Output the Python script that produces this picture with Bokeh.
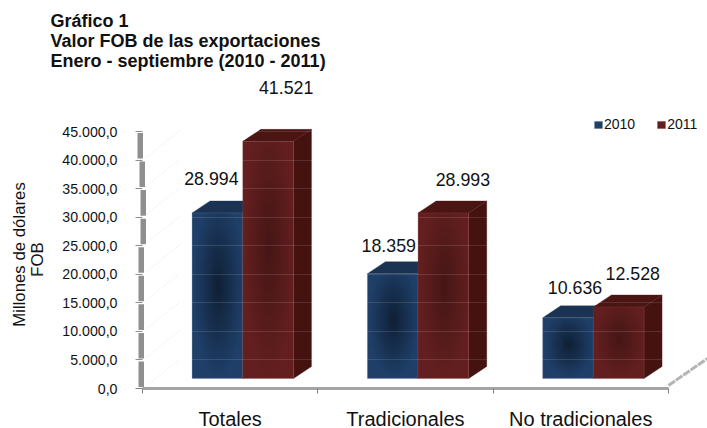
import numpy as np
from bokeh.plotting import figure
from bokeh.models import Range1d, FixedTicker, Label, Legend, LegendItem, ColumnDataSource
from bokeh.core.properties import value
from bokeh.embed import file_html
from bokeh.resources import INLINE

categories = ["Totales", "Tradicionales", "No tradicionales"]
years = ["2010", "2011"]
values_2010 = [28994, 18359, 10636]
values_2011 = [41521, 28993, 12528]
labels_2010 = ["28.994", "18.359", "10.636"]
labels_2011 = ["41.521", "28.993", "12.528"]
y_ticks = [0, 5000, 10000, 15000, 20000, 25000, 30000, 35000, 40000, 45000]
y_tick_labels = ["0,0", "5.000,0", "10.000,0", "15.000,0", "20.000,0", "25.000,0",
                 "30.000,0", "35.000,0", "40.000,0", "45.000,0"]
title_lines = ["Gráfico 1", "Valor FOB de las exportaciones", "Enero - septiembre (2010 - 2011)"]
y_title_lines = ["Millones de dólares", "FOB"]

FONT = "Liberation Sans"
W, H = 707, 428
X0, Y0 = 142, 388           # pixel position of the chart origin
PX_Y = 257 / 45000          # pixels per unit of value
PX_X = 175.3                # pixels per category

p = figure(width=W, height=H, output_backend="svg", toolbar_location=None,
           x_range=Range1d(-X0 / PX_X, (W - X0) / PX_X),
           y_range=Range1d(-(H - Y0) / PX_Y, Y0 / PX_Y),
           min_border=0, outline_line_color=None,
           background_fill_color="white", border_fill_color="white")

dx, dy = 18 / PX_X, 12 / PX_Y
base = 10 / PX_Y
bw = 50.7 / PX_X
shift = 0.072


def px(v):
    return v / PX_X


def py(v):
    return v / PX_Y


# left wall: staggered thick grey pieces and faint diagonals
wall_off = [0, 0, 0, 0, 0, 2, 2, 1, -1]
p.quad(left=[px(-4 + o) for o in wall_off],
       right=[px(1.5 + o) for o in wall_off],
       bottom=[t + py(1.5) for t in y_ticks[:-1]],
       top=[t - py(1.5) for t in y_ticks[1:]],
       fill_color="#8f8f8f", line_color=None)
p.segment(x0=[px(3)] * 9, y0=[t + py(2) for t in y_ticks[:-1]],
          x1=[px(38)] * 9, y1=[t + py(30) for t in y_ticks[:-1]],
          line_color="#e2e2e2", line_width=1, line_dash="1 2")
p.segment(x0=[3], y0=[py(3)], x1=[3 + px(39)], y1=[py(30)],
          line_color="#b4b4b4", line_width=3, line_dash="8 1")


def shade(strength):
    h, w = 120, 50
    yy, xx = np.mgrid[0:h, 0:w]
    d = np.sqrt(((xx - w / 2) / (w / 2)) ** 2 + ((yy - h * .55) / (h * .55)) ** 2)
    a = np.clip(1 - d, 0, 1) * strength * 255
    img = np.zeros((h, w), dtype=np.uint32)
    view = img.view(dtype=np.uint8).reshape((h, w, 4))
    view[:, :, 3] = a.astype(np.uint8)
    return img


def draw_bar(x, v, front, side, top, edge, strength):
    b, t = base, base + v
    p.patches(xs=[[x + bw, x + bw + dx, x + bw + dx, x + bw]],
              ys=[[b, b + dy, t + dy, t]], fill_color=side, line_color=side, line_alpha=.3)
    c = px(6)
    p.patches(xs=[[x, x + c, x + dx, x + bw + dx, x + bw]],
              ys=[[t, t + py(4), t + dy, t + dy, t]], fill_color=top, line_color=top, line_alpha=.3)
    r = p.quad(left=[x], right=[x + bw], bottom=[b], top=[t],
               fill_color=front, line_color=edge, line_width=1, line_alpha=.3)
    p.image_rgba(image=[shade(strength)], x=[x + px(1)], y=[b], dw=[bw - px(2)], dh=[v])
    return r


rend = {}
lab_x, lab_y, lab_t, lab_xo, lab_yo = [], [], [], [], []
x_off_2010 = [-6, -4, 7]
x_off_2011 = [18, 19.5, 14]
y_off_2010 = [-44, -38, -40]
y_off_2011 = [-64, -43, -43.5]
for i in range(3):
    x0 = i + .5 + shift - bw
    rend["2010"] = draw_bar(x0, values_2010[i], "#1f3f68", "#14283f", "#1a3352", "#6a84a4", .5)
    rend["2011"] = draw_bar(x0 + bw, values_2011[i], "#631f1f", "#451210", "#4a1513", "#8a4a4a", .3)
    lab_x += [x0 + bw / 2, x0 + 1.5 * bw]
    lab_y += [values_2010[i], values_2011[i]]
    lab_t += [labels_2010[i], labels_2011[i]]
    lab_xo += [x_off_2010[i], x_off_2011[i]]
    lab_yo += [y_off_2010[i], y_off_2011[i]]

p.text(x="x", y="y", text="t", x_offset="xo", y_offset="yo",
       source=ColumnDataSource(dict(x=lab_x, y=lab_y, t=lab_t, xo=lab_xo, yo=lab_yo)),
       text_font=value(FONT), text_font_size="17.8px", text_color="#111111",
       text_align="center", text_baseline="middle")

# axes
ax = p.xaxis[0]
ax.fixed_location = 0
ax.bounds = (0, 3)
ax.ticker = FixedTicker(ticks=[.5, 1.5, 2.5], minor_ticks=[0, 1, 2, 3])
ax.major_label_overrides = {.5: categories[0], 1.5: categories[1], 2.5: categories[2]}
ax.major_tick_line_color = None
ax.major_tick_out = 5
ax.minor_tick_out = 5
ax.minor_tick_in = 0
ax.minor_tick_line_color = "#808080"
ax.axis_line_color = "#a4a4a4"
ax.axis_line_width = 3
ax.major_label_text_font = FONT
ax.major_label_text_font_size = "20px"
ax.major_label_text_color = "#111111"
ax.major_label_standoff = 14

ay = p.yaxis[0]
ay.fixed_location = 0
ay.bounds = (0, 45000)
ay.ticker = FixedTicker(ticks=y_ticks)
ay.major_label_overrides = dict(zip(y_ticks, y_tick_labels))
ay.axis_line_color = None
ay.major_tick_out = 7
ay.major_tick_in = 0
ay.major_tick_line_color = "#808080"
ay.minor_tick_line_color = None
ay.major_label_text_font = FONT
ay.major_label_text_font_size = "14.2px"
ay.major_label_text_color = "#111111"
ay.major_label_standoff = 18

p.xgrid.visible = False
g = p.ygrid[0]
g.ticker = FixedTicker(ticks=y_ticks[1:])
g.grid_line_color = "white"
g.grid_line_alpha = .12
g.level = "overlay"

# legend
leg = Legend(items=[LegendItem(label=years[0], renderers=[rend["2010"]]),
                    LegendItem(label=years[1], renderers=[rend["2011"]])],
             orientation="horizontal", location=(593, H - 132),
             background_fill_alpha=0, border_line_color=None,
             glyph_width=10, glyph_height=9, label_standoff=1, spacing=21,
             padding=0, margin=0, label_text_font=FONT, label_text_font_size="14px",
             label_text_color="#111111", label_height=12)
p.add_layout(leg)

# title and y title
for t, sy in zip(title_lines, [20, 40, 60]):
    p.add_layout(Label(x=50, y=H - sy, x_units="screen", y_units="screen", text=t,
                       text_font=FONT, text_font_style="bold", text_font_size="18px",
                       text_color="#111111", text_baseline="middle"))
for t, sx, sy in zip(y_title_lines, [19, 37], [254, 259]):
    p.add_layout(Label(x=sx, y=H - sy, x_units="screen", y_units="screen", text=t,
                       angle=90, angle_units="deg", text_font=FONT, text_font_size="16.8px",
                       text_color="#111111", text_align="center", text_baseline="middle"))

open("out.html", "w").write(file_html(p, INLINE))
